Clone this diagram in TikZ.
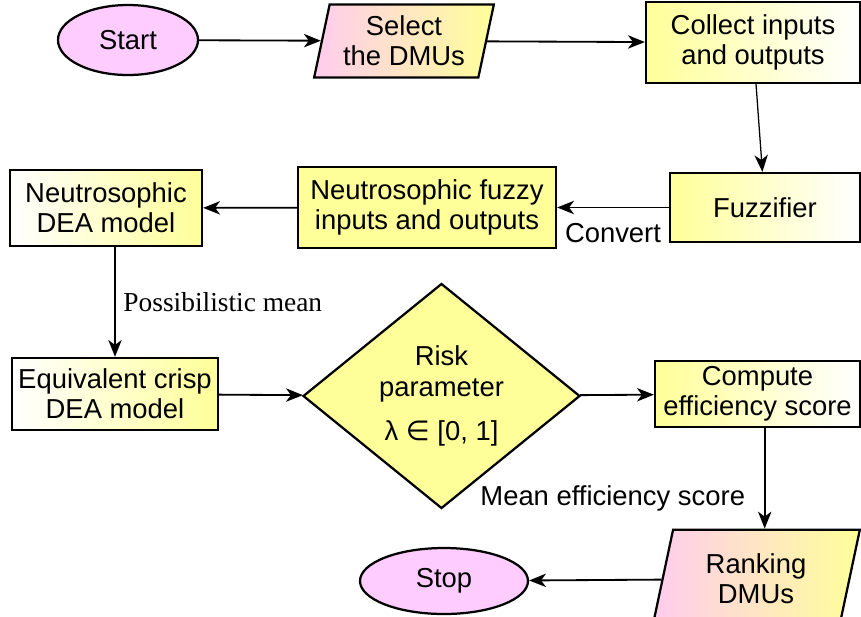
\documentclass[tikz,border=0pt]{standalone}
\usepackage{xcolor}
\usepackage{fontspec}
\setmainfont{Liberation Sans}
\newfontfamily\serifface{Liberation Serif}
\newfontfamily\symface{DejaVu Sans}
\usepackage{tikz}
\usetikzlibrary{shapes,arrows,arrows.meta}

\definecolor{boxyellow}{HTML}{FFFF99}
\definecolor{termpink}{HTML}{FFCCFF}
\definecolor{iopink}{HTML}{FFCCEE}

\begin{document}
\begin{tikzpicture}[
  font=\fontsize{19.5}{21.5}\selectfont,
  >={Stealth[length=12pt,width=9.5pt,inset=3.5pt]},
  every node/.style={align=center},
  terminal/.style={ellipse,draw,line width=1.6pt,fill=termpink},
  iobox/.style={trapezium,trapezium left angle=78,trapezium right angle=102,
    draw,line width=1.6pt,left color=iopink,right color=boxyellow,inner xsep=0pt},
  fadebox/.style={rectangle,draw,line width=1.6pt,left color=boxyellow,right color=white},
  risebox/.style={rectangle,draw,line width=1.6pt,left color=white,right color=boxyellow},
  plainbox/.style={rectangle,draw,line width=1.6pt,fill=boxyellow},
  link/.style={->,line width=1.3pt}
]
\useasboundingbox (0,0) rectangle (21.525,-15.4);

\node [terminal,minimum width=3.5cm,minimum height=1.75cm] (start) at (3.2,-1.0) {Start};
\node [iobox,minimum width=4.4cm,minimum height=1.825cm] (select) at (10.1,-1.025) {Select\\the DMUs};
\node [fadebox,minimum width=5.35cm,minimum height=2.025cm] (collect) at (18.825,-1.0625) {Collect inputs\\and outputs};
\node [fadebox,minimum width=4.75cm,minimum height=1.725cm] (fuzz) at (19.125,-5.1875) {Fuzzifier};
\node [plainbox,minimum width=6.45cm,minimum height=2.025cm] (nfuzzy) at (10.675,-5.1875) {Neutrosophic fuzzy\\inputs and outputs};
\node [risebox,minimum width=4.8cm,minimum height=1.9cm] (ndea) at (2.65,-5.2) {Neutrosophic\\DEA model};
\node [risebox,minimum width=5.15cm,minimum height=1.8cm] (equiv) at (2.875,-9.85) {Equivalent crisp\\DEA model};
\node [diamond,draw,line width=1.6pt,fill=boxyellow,minimum width=6.925cm,minimum height=3.7cm,inner sep=0pt] (risk) at (11.0375,-9.9) {Risk\\parameter\\[10pt]λ {\symface ∈} [0, 1]};
\node [fadebox,minimum width=5.125cm,minimum height=1.65cm] (compute) at (18.9375,-9.85) {Compute\\efficiency score};
\node [iobox,minimum width=5.2cm,minimum height=1.65cm] (rank) at (18.9,-14.475) {Ranking\\DMUs};
\node [terminal,minimum width=4.2cm,minimum height=1.65cm] (stop) at (11.1,-14.525) {Stop};

\draw [link] (start) -- (select);
\draw [link] (select) -- (collect);
\draw [->,line width=0.9pt] (collect) -- (fuzz);
\draw [link] (fuzz) -- node[below=7pt] {Convert} (nfuzzy);
\draw [link] (nfuzzy) -- (ndea);
\draw [link] (equiv.north |- ndea.south) -- node[right=2pt,font=\serifface\fontsize{19.5}{21.5}\selectfont] {Possibilistic mean} (equiv.north);
\draw [link] (equiv) -- (risk);
\draw [link] (risk) -- (compute);
\draw [link] ([xshift=0.18cm]compute.south) -- node[left=10pt,pos=0.7] {Mean efficiency score} ([xshift=0.18cm]compute.south |- rank.north);
\draw [link] (rank) -- (stop);

\end{tikzpicture}
\end{document}
